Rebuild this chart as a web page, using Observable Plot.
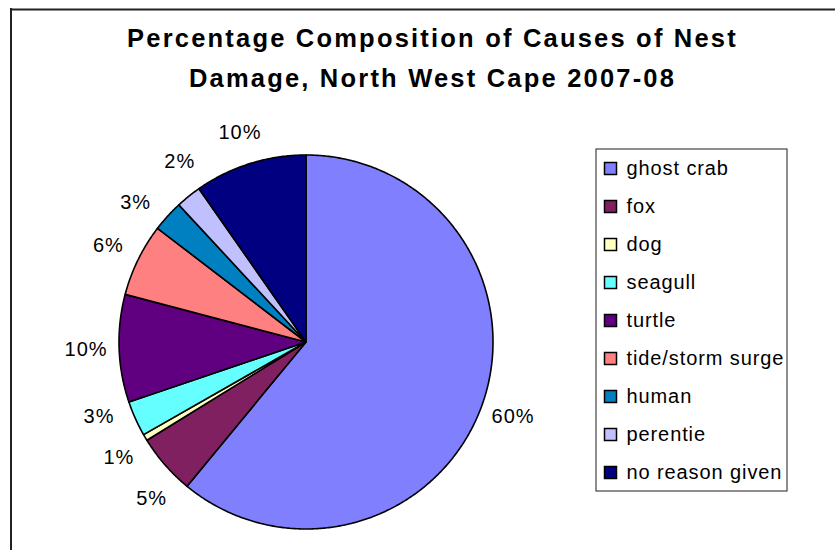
<!DOCTYPE html>
<html><head><meta charset="utf-8">
<script src="https://cdn.jsdelivr.net/npm/d3@7"></script>
<script src="https://cdn.jsdelivr.net/npm/@observablehq/plot@0.6"></script>
<style>
html,body{margin:0;padding:0;background:#fff;}
</style></head><body><div id="chart"></div>
<script>
// ---- data ----
const causes = ["ghost crab","fox","dog","seagull","turtle","tide/storm surge","human","perentie","no reason given"];
const values = [60.97, 5.23, 0.55, 3.05, 9.3, 6.3, 2.7, 2.2, 9.7];
const pctLabels = ["60%","5%","1%","3%","10%","6%","3%","2%","10%"];
const colors = ["#8080FF","#802060","#FFFFC0","#66FFFF","#600080","#FF8080","#0080C0","#C0C0FF","#000080"];
const titleLines = ["Percentage Composition of Causes of Nest","Damage, North West Cape 2007-08"];

// ---- layout ----
const W = 835, H = 550;
const cx = 305.5, cy = 341.5, r = 187, rLabel = 220, G = 41;
const font = "'Liberation Sans', Arial, sans-serif";

const total = d3.sum(values);
let acc = 0;
const slices = causes.map((c, i) => {
  const a0 = acc / total * 2 * Math.PI; acc += values[i];
  const a1 = acc / total * 2 * Math.PI;
  return {cause: c, a0, a1, mid: (a0 + a1) / 2, label: pctLabels[i]};
});

// wedge outlines (geometry of each slice)
const wedges = [];
slices.forEach(s => {
  const n = Math.max(2, Math.ceil((s.a1 - s.a0) / (Math.PI / 360)));
  wedges.push({cause: s.cause, x: cx, y: cy});
  for (let k = 0; k <= n; k++) {
    const a = s.a0 + (s.a1 - s.a0) * k / n;
    wedges.push({cause: s.cause, x: cx + r * Math.sin(a), y: cy - r * Math.cos(a)});
  }
  wedges.push({cause: s.cause, x: cx, y: cy});
});

// percentage labels placed outside with simple collision relaxation
const labs = slices.map(s => ({label: s.label, side: Math.sin(s.mid) >= 0 ? 1 : -1,
  y: cy - rLabel * Math.cos(s.mid), w: s.label.length * 14}));
const setX = l => { const dy = l.y - cy; l.x = cx + l.side * Math.sqrt(Math.max(0, rLabel * rLabel - dy * dy)); };
labs.forEach(setX);
for (let it = 0; it < 400; it++) {
  let moved = false;
  for (let i = 0; i < labs.length; i++) for (let j = i + 1; j < labs.length; j++) {
    const A = labs[i], B = labs[j];
    if (A.side !== B.side) continue;
    const dx = Math.abs(A.x - B.x), dy = B.y - A.y;
    if (dx < (A.w + B.w) / 2 + 20 && Math.abs(dy) < G) {
      const push = (G - Math.abs(dy)) / 4, sg = dy >= 0 ? 1 : -1;
      A.y -= sg * push; B.y += sg * push; setX(A); setX(B); moved = true;
    }
  }
  if (!moved) break;
}

const legendRows = causes.map((c, i) => ({cause: c, y: 168 + i * 38}));

const chart = Plot.plot({
  width: W, height: H, margin: 0,
  x: {type: "linear", domain: [0, W], range: [0, W], axis: null},
  y: {type: "linear", domain: [0, H], range: [0, H], axis: null},
  color: {type: "ordinal", domain: causes, range: colors},
  style: {fontFamily: font, background: "#fff", color: "#000"},
  marks: [
    Plot.ruleY([9], {x1: 10.5, x2: W, stroke: "#222", strokeWidth: 2}),
    Plot.ruleX([10.5], {y1: 8, y2: H, stroke: "#222", strokeWidth: 2}),
    Plot.text(titleLines, {x: 432, y: (d, i) => 46.5 + i * 40, text: d => d, lineAnchor: "bottom",
      textAnchor: "middle", fontSize: 25.5, fontWeight: "bold", fill: "#000"}),
    Plot.line(wedges, {x: "x", y: "y", z: "cause", fill: "cause", stroke: "#000", strokeWidth: 1.6, strokeLinejoin: "round"}),
    Plot.text(labs, {x: "x", y: "y", text: "label", fontSize: 20, fill: "#000", textAnchor: "middle"}),
    Plot.rect([0], {x1: 596, x2: 787, y1: 149, y2: 491, fill: "#fff", stroke: "#444", strokeWidth: 1.2}),
    Plot.dot(legendRows, {x: 610, y: "y", symbol: "square", r: 12 / Math.sqrt(Math.PI), fill: "cause", stroke: "#000", strokeWidth: 1.5}),
    Plot.text(legendRows, {x: 626, y: "y", text: "cause", textAnchor: "start", fontSize: 20, fill: "#000"})
  ]
});
// letter spacing per text layer (title, percentages, legend)
const textGroups = d3.select(chart).selectAll('g[aria-label="text"]').nodes();
const spacing = ["2.2px", "1px", "0.9px"];
textGroups.forEach((g, i) => d3.select(g).style("letter-spacing", spacing[i] || "0px"));
document.getElementById("chart").appendChild(chart);
</script></body></html>
